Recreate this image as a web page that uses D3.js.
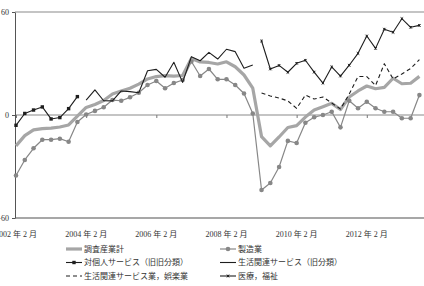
<!DOCTYPE html>
<html lang="ja">
    <head>
        <meta charset="utf-8">
        <title>産業別推移</title>
        <script src="https://d3js.org/d3.v7.min.js"></script>
        <style type="text/css">
            body { margin: 0; background: #fff; }
            text { font-family: "Liberation Serif", "Noto Sans CJK JP", serif; fill: #333; }
        </style>
    </head>
    <body>
        <script type="text/javascript">

            //1. size
            const svgW = 424;
            const svgH = 286;

            //2. data (quarterly, index 0 = 2002年2月)
            const xTickIdx = [0, 8, 16, 24, 32, 40];
            const xTickLabels = ["2002 年 2 月", "2004 年 2 月", "2006 年 2 月", "2008 年 2 月", "2010 年 2 月", "2012 年 2 月"];
            const yTicks = [60, 0, -60];

            // 調査産業計 (start 0)
            const total = [-18, -12, -8.7, -7.9, -7.6, -7, -5.8, -0.6, 4.4, 6.1, 8.4, 12.2, 14, 15.6, 18, 21,
                22.4, 22.9, 22.7, 23, 32.9, 30.9, 30.6, 29.7, 31, 28.1, 23.3, 15.6, -12.6, -18, -12.8, -7.3,
                -6.2, -1.2, 2.9, 4.8, 6.8, 3.2, 10.5, 14, 16.9, 15.3, 16.1, 21.4, 18.2, 18.5, 22.5];
            // 製造業 (start 0)
            const manuf = [-35.2, -26.2, -19.4, -14.4, -14.4, -13.8, -15.6, -4.1, 0.3, 2.4, 4.5, 8.7, 8.3, 10.3, 13, 17.5,
                19.8, 15.6, 18.6, 20.4, 31.2, 22.7, 26.8, 20.8, 20.8, 17.5, 12.5, 0.9, -43.7, -39.6, -30.3, -15.1,
                -16.3, -4.5, -1.3, 0, 1.9, -7.2, 8.3, 3.9, 7.7, 3.9, 1.9, 1.9, -1.9, -1.9, 11.6];
            // 対個人サービス（旧旧分類） (start 0)
            const personal = [-6, 0.9, 2.9, 4.7, -2.3, -1.5, 3.7, 10.7];
            const personalStart = 0;
            // 生活関連サービス（旧分類） (start 8)
            const livingOld = [8.7, 14.6, 8.3, 8.2, 14, 13.6, 13, 25.8, 26.6, 22, 30.7, 19, 34, 31.6, 36.5, 32.6,
                38.3, 36.9, 27.2, 29.1];
            const livingOldStart = 8;
            // 生活関連サービス業，娯楽業 (start 28)
            const livingNew = [12.8, 11.1, 9.9, 8.2, 3.9, 11.6, 9.3, 10.5, 7, 3.5, 12.2, 22.4, 22.4, 17.2, 29.9, 21,
                23.9, 27.1, 32.2];
            const livingNewStart = 28;
            // 医療，福祉 (start 28)
            const medical = [43.1, 26.8, 28.9, 24.9, 30.1, 31.9, 25, 18.6, 28, 22.7, 29, 35.9, 46, 38.8, 50, 48.2,
                56.1, 51.1, 52.2];
            const medicalStart = 28;

            const seriesNames = ["調査産業計", "製造業", "対個人サービス（旧旧分類）", "生活関連サービス（旧分類）",
                "生活関連サービス業，娯楽業", "医療，福祉"];

            //3. scales
            const plotL = 15, plotR = 424, plotT = 12, plotB = 218;
            const x = d3.scaleLinear().domain([0, 46]).range([16, 419.4]);
            const y = d3.scaleLinear().domain([-60, 60]).range([plotB, plotT]);

            const toPts = (arr, start) => arr.map((v, i) => [start + i, v]);

            //4. svg
            const svg = d3.select("body").append("svg")
                .attr("width", svgW)
                .attr("height", svgH);

            // grid lines at +-60
            svg.selectAll("line.grid")
                .data([60, -60])
                .enter()
                .append("line")
                .attr("class", "grid")
                .attr("x1", plotL).attr("x2", plotR)
                .attr("y1", d => y(d)).attr("y2", d => y(d))
                .attr("stroke", "#8a8a8a")
                .attr("stroke-width", d => d < 0 ? 1.6 : 1.1);

            // zero line + ticks
            svg.append("line")
                .attr("x1", plotL).attr("x2", plotR)
                .attr("y1", y(0)).attr("y2", y(0))
                .attr("stroke", "#8a8a8a").attr("stroke-width", 1.1);

            const bottomAxis = d3.axisBottom(x).tickValues(xTickIdx).tickSize(3).tickFormat("");
            const gx = svg.append("g")
                .attr("transform", "translate(0," + y(0) + ")")
                .call(bottomAxis);
            gx.select(".domain").remove();
            gx.selectAll("line").attr("stroke", "#777");

            // x labels at the bottom
            svg.selectAll("text.xlab")
                .data(xTickIdx)
                .enter()
                .append("text")
                .attr("class", "xlab")
                .attr("x", d => x(d))
                .attr("y", 237)
                .attr("text-anchor", "middle")
                .attr("font-size", "8px")
                .text((d, i) => xTickLabels[i]);

            // left axis
            const leftAxis = d3.axisLeft(y).tickValues(yTicks).tickSize(3).tickSizeOuter(0);
            const gy = svg.append("g")
                .attr("transform", "translate(" + plotL + ",0)")
                .call(leftAxis);
            gy.select(".domain").attr("stroke", "#555");
            gy.selectAll("line").attr("stroke", "#555");
            gy.selectAll("text")
                .attr("font-family", "\"Liberation Serif\", serif")
                .attr("font-size", "8px")
                .attr("fill", "#333");

            //5. lines
            const line = d3.line().x(d => x(d[0])).y(d => y(d[1]));

            const series = [
                { pts: toPts(total, 0), stroke: "#a6a6a6", w: 3.2, dash: null, marker: null },
                { pts: toPts(manuf, 0), stroke: "#878787", w: 1.2, dash: null, marker: "circle" },
                { pts: toPts(personal, personalStart), stroke: "#1e1e1e", w: 1.1, dash: null, marker: "square" },
                { pts: toPts(livingOld, livingOldStart), stroke: "#1e1e1e", w: 1.1, dash: null, marker: null },
                { pts: toPts(livingNew, livingNewStart), stroke: "#1e1e1e", w: 1.1, dash: "4,3", marker: null },
                { pts: toPts(medical, medicalStart), stroke: "#1e1e1e", w: 1.1, dash: null, marker: "star" }
            ];

            const drawMarker = (g, type, cx, cy, col) => {
                if (type === "circle") {
                    g.append("circle").attr("cx", cx).attr("cy", cy).attr("r", 2.3).attr("fill", col);
                } else if (type === "square") {
                    g.append("rect").attr("x", cx - 1.7).attr("y", cy - 1.7)
                        .attr("width", 3.4).attr("height", 3.4).attr("fill", col);
                } else if (type === "star") {
                    const r = 1.3;
                    g.append("path")
                        .attr("d", "M" + (cx - r) + "," + (cy - r) + "L" + (cx + r) + "," + (cy + r) +
                            "M" + (cx - r) + "," + (cy + r) + "L" + (cx + r) + "," + (cy - r) +
                            "M" + cx + "," + (cy - r) + "L" + cx + "," + (cy + r))
                        .attr("stroke", col).attr("stroke-width", 0.9);
                }
            };

            series.forEach(s => {
                svg.append("path")
                    .datum(s.pts)
                    .attr("d", line)
                    .attr("fill", "none")
                    .attr("stroke", s.stroke)
                    .attr("stroke-width", s.w)
                    .attr("stroke-linejoin", "round")
                    .attr("stroke-dasharray", s.dash);
                if (s.marker) {
                    const g = svg.append("g");
                    s.pts.forEach(p => drawMarker(g, s.marker, x(p[0]), y(p[1]), s.stroke));
                }
            });

            //6. legend
            const legX = [66, 220];
            const legY = [249, 262.5, 276];
            series.forEach((s, i) => {
                const lx = legX[i % 2];
                const ly = legY[Math.floor(i / 2)];
                const g = svg.append("g");
                g.append("line")
                    .attr("x1", lx).attr("x2", lx + 16)
                    .attr("y1", ly).attr("y2", ly)
                    .attr("stroke", s.stroke)
                    .attr("stroke-width", s.w)
                    .attr("stroke-dasharray", s.dash);
                if (s.marker) drawMarker(g, s.marker, lx + 8, ly, s.stroke);
                g.append("text")
                    .attr("x", lx + 18)
                    .attr("y", ly)
                    .attr("dy", "0.35em")
                    .attr("font-size", "8px")
                    .text(seriesNames[i]);
            });

        </script>
    </body>
</html>
